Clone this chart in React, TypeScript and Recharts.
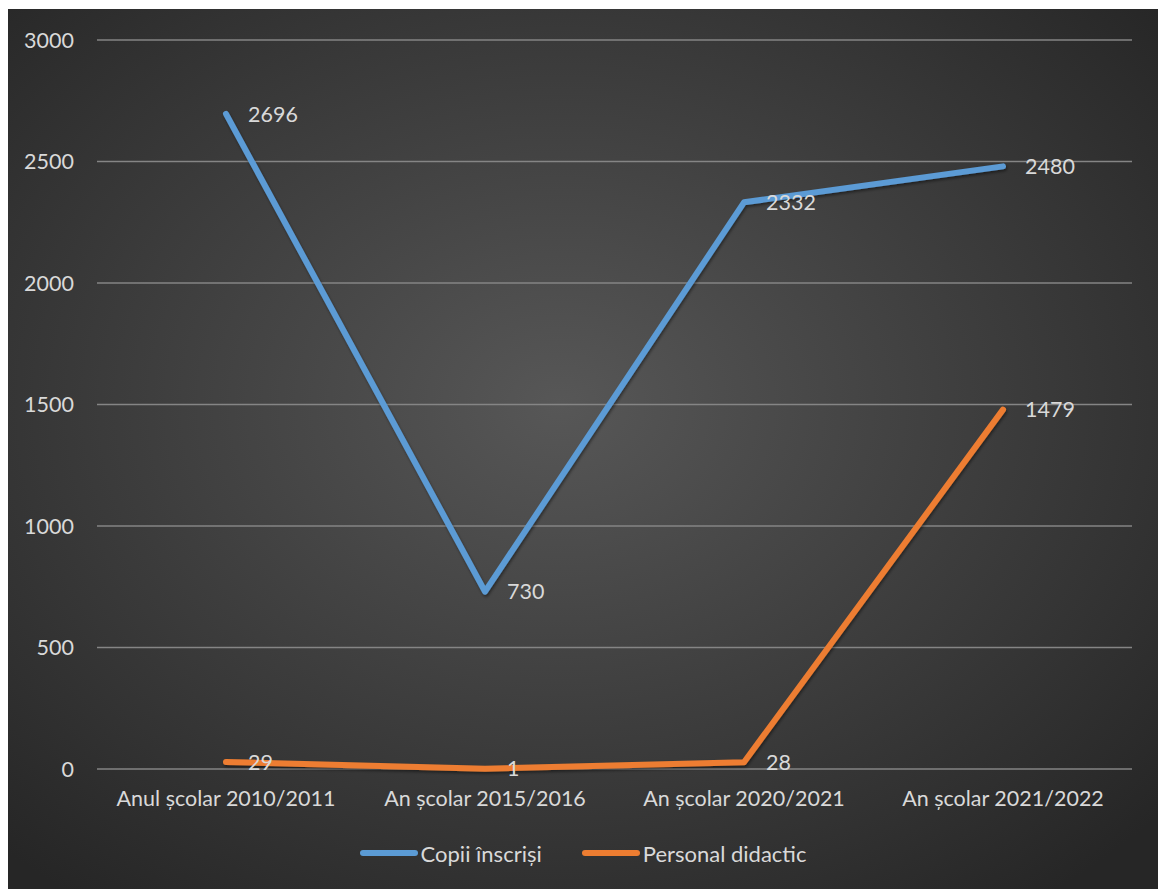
import { LineChart, Line, XAxis, YAxis, CartesianGrid, Legend, LabelList } from 'recharts';

const years = ['Anul școlar 2010/2011', 'An școlar 2015/2016', 'An școlar 2020/2021', 'An școlar 2021/2022'];
const copiiInscrisi = [2696, 730, 2332, 2480];
const personalDidactic = [29, 1, 28, 1479];
const yTicks = [0, 500, 1000, 1500, 2000, 2500, 3000];

const series = [
  { key: 'copii', name: 'Copii înscriși', color: '#5b9bd5' },
  { key: 'personal', name: 'Personal didactic', color: '#ed7d31' },
];

const data = years.map((year, i) => ({
  year,
  copii: copiiInscrisi[i],
  personal: personalDidactic[i],
}));

const FONT = 'Lato, sans-serif';
const TEXT = '#d9d9d9';

function ChartLegend() {
  return (
    <div style={{ display: 'flex', justifyContent: 'center', alignItems: 'center', gap: 40, height: 30, fontFamily: FONT, fontSize: 22, color: TEXT }}>
      {series.map(s => (
        <div key={s.key} style={{ display: 'flex', alignItems: 'center' }}>
          <span style={{ display: 'inline-block', width: 58, height: 6, borderRadius: 3, background: s.color, marginRight: 3 }} />
          <span>{s.name}</span>
        </div>
      ))}
    </div>
  );
}

export default function App() {
  return (
    <div
      style={{
        position: 'absolute',
        left: 8,
        top: 9,
        width: 1150,
        height: 880,
        background: 'radial-gradient(ellipse 70% 70% at 48% 45%, #575757 0%, #3c3c3c 55%, #262626 100%)',
      }}
    >
      <LineChart width={1150} height={880} data={data} margin={{ top: 31, right: 26, bottom: 60, left: 0 }}>
        <defs>
          <filter id="lineShadow" x="-10%" y="-10%" width="120%" height="120%">
            <feDropShadow dx="1" dy="2" stdDeviation="1.5" floodColor="#000" floodOpacity="0.45" />
          </filter>
        </defs>
        <CartesianGrid vertical={false} stroke="#858585" strokeWidth={1.5} />
        <XAxis
          dataKey="year"
          axisLine={false}
          tickLine={false}
          tickSize={0}
          tickMargin={22}
          padding={{ left: 129, right: 129 }}
          tick={{ fill: TEXT, fontSize: 21.5, fontFamily: FONT }}
          interval={0}
        />
        <YAxis
          domain={[0, 3000]}
          ticks={yTicks}
          width={89}
          axisLine={false}
          tickLine={false}
          tickSize={0}
          tickMargin={23}
          tick={{ fill: TEXT, fontSize: 21.5, fontFamily: FONT }}
        />
        <Legend verticalAlign="bottom" height={30} wrapperStyle={{ top: 829, left: 0, width: 1150, height: 30 }} content={() => <ChartLegend />} />
        {series.map(s => (
          <Line
            key={s.key}
            dataKey={s.key}
            name={s.name}
            type="linear"
            stroke={s.color}
            strokeWidth={6}
            strokeLinecap="round"
            strokeLinejoin="round"
            dot={false}
            activeDot={false}
            filter="url(#lineShadow)"
            isAnimationActive={false}
          >
            <LabelList dataKey={s.key} position="right" offset={22} fill={TEXT} fontSize={21.5} fontFamily={FONT} />
          </Line>
        ))}
      </LineChart>
    </div>
  );
}
